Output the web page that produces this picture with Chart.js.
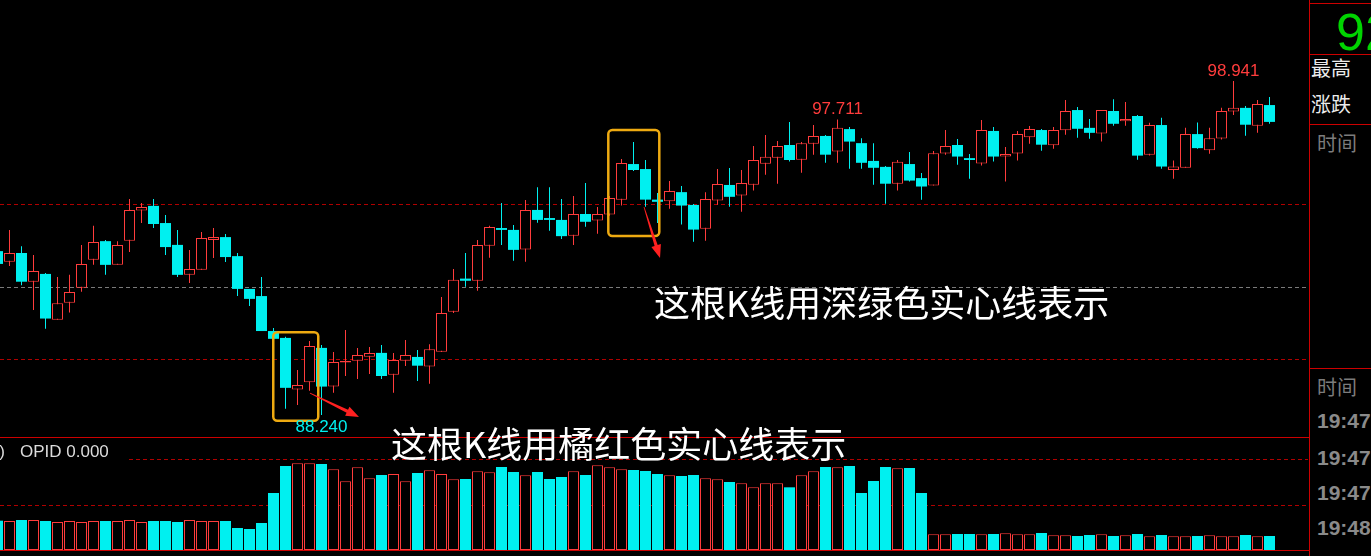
<!DOCTYPE html>
<html>
<head>
<meta charset="utf-8">
<title>K线</title>
<script src="https://cdn.jsdelivr.net/npm/chart.js@4.4.1/dist/chart.umd.min.js"></script>
<style>
    html, body { margin: 0; padding: 0; background: #000; width: 1371px; height: 556px; overflow: hidden; }
    #price-wrap { position: absolute; left: 0; top: 0; width: 1308px; height: 437px; }
    #volume-wrap { position: absolute; left: 0; top: 437px; width: 1308px; height: 113px; }
    .rule { position: absolute; background: #cc0000; }
    .txt { position: absolute; white-space: nowrap; line-height: 1; }
    .cjk { font-family: "Noto Sans CJK SC", sans-serif; }
    .lat { font-family: "Liberation Sans", Arial, sans-serif; }
</style>
</head>
<body>
<div id="price-wrap"><canvas id="priceChart"></canvas></div>
<div id="volume-wrap"><canvas id="volumeChart"></canvas></div>

<!-- frame lines -->
<div class="rule" style="left:1309px; top:0; width:1px; height:556px;"></div>
<div class="rule" style="left:0; top:437px; width:1309px; height:1px;"></div>
<div class="rule" style="left:0; top:550px; width:1309px; height:1px;"></div>
<div class="rule" style="left:1309px; top:3px; width:62px; height:1px;"></div>
<div class="rule" style="left:1309px; top:54px; width:62px; height:1px;"></div>
<div class="rule" style="left:1309px; top:124px; width:62px; height:1px;"></div>
<div class="rule" style="left:1309px; top:368px; width:62px; height:1px;"></div>

<!-- side panel -->
<div class="txt lat" style="left:1336px; top:6px; font-size:52px; color:#00d400;">92</div>
<div class="txt cjk" style="left:1311px; top:58px; font-size:20px; color:#ececec;">最高</div>
<div class="txt cjk" style="left:1311px; top:94px; font-size:20px; color:#ececec;">涨跌</div>
<div class="txt cjk" style="left:1317px; top:133px; font-size:20px; color:#7c7c7c;">时间</div>
<div class="txt cjk" style="left:1317px; top:377px; font-size:20px; color:#7c7c7c;">时间</div>
<div id="time-list"></div>

<!-- indicator title -->
<div class="txt lat" style="right:1366px; top:443px; font-size:17px; color:#dcdcdc;">0)</div>
<div class="txt lat" style="left:20px; top:443px; font-size:17px; color:#dcdcdc;">OPID 0.000</div>

<!-- notes -->
<div class="txt cjk" style="left:654px; top:283px; font-size:36px; color:#fff;">这根K线用深绿色实心线表示</div>
<div class="txt cjk" style="left:391px; top:424px; font-size:36px; color:#fff;">这根K线用橘红色实心线表示</div>

<script>
/* ------------------ DATA ------------------ */
// first candle sits at index -1, half cut by the left edge
const firstBar = -1;

const opens = [
    93.49, 93.15, 93.43, 92.51, 92.76, 91.29, 91.84, 92.32, 93.21, 93.81,
    93.05, 93.82, 94.79, 94.94, 94.39, 93.69, 92.73, 92.89, 93.85, 93.94,
    93.33, 92.28, 92.05, 90.93, 90.71, 89.06, 89.29, 90.39, 89.15, 89.92,
    89.98, 90.11, 90.23, 89.53, 89.98, 90.10, 89.79, 90.27, 91.55, 92.61,
    92.54, 93.66, 94.23, 94.17, 93.54, 94.81, 94.55, 94.49, 93.98, 94.68,
    94.47, 94.66, 95.14, 96.28, 96.12, 95.14, 95.09, 95.38, 94.97, 94.21,
    95.11, 95.61, 95.27, 95.62, 96.29, 96.48, 96.89, 96.42, 96.93, 97.18,
    96.68, 97.40, 96.95, 96.38, 96.19, 95.65, 96.28, 95.83, 95.59, 96.62,
    96.89, 96.47, 96.30, 97.34, 96.52, 96.62, 97.14, 97.37, 96.88, 97.36,
    98.01, 97.44, 97.26, 97.98, 97.65, 97.82, 96.58, 97.53, 96.09, 96.16,
    97.24, 96.72, 97.10, 97.96, 98.08, 97.51, 98.17
];
const highs = [
    93.69, 94.17, 93.65, 93.37, 92.79, 92.66, 92.73, 93.69, 94.30, 93.85,
    93.81, 95.16, 95.03, 95.16, 94.65, 94.17, 93.53, 94.10, 94.23, 94.04,
    93.43, 92.28, 92.66, 91.03, 90.75, 89.68, 90.61, 90.48, 90.26, 90.96,
    90.39, 90.42, 90.48, 90.23, 90.64, 90.32, 90.51, 92.02, 92.92, 93.43,
    93.85, 94.30, 95.03, 94.33, 95.13, 95.54, 95.54, 95.16, 95.26, 95.67,
    94.90, 95.26, 96.44, 96.99, 96.41, 95.35, 95.74, 95.58, 95.00, 95.38,
    96.12, 96.15, 96.09, 96.86, 97.21, 97.02, 97.63, 96.99, 97.53, 97.21,
    97.711, 97.47, 97.11, 96.95, 96.22, 96.41, 96.67, 95.99, 96.70, 97.37,
    97.08, 96.60, 97.69, 97.47, 96.83, 97.34, 97.50, 97.40, 97.47, 98.33,
    98.11, 97.72, 98.01, 98.36, 98.27, 97.85, 97.60, 97.76, 96.39, 97.44,
    97.61, 97.44, 98.08, 98.941, 98.14, 98.33, 98.43
];
const lows = [
    92.95, 93.01, 92.40, 91.60, 91.00, 91.29, 91.52, 92.19, 93.05, 92.73,
    93.05, 93.46, 94.39, 94.23, 93.37, 92.66, 92.47, 92.89, 93.27, 93.14,
    92.05, 91.73, 90.93, 90.67, 88.44, 88.56, 89.02, 88.240, 88.95, 89.49,
    89.39, 89.55, 89.39, 88.95, 89.81, 89.33, 89.24, 90.26, 91.51, 92.35,
    92.22, 93.28, 93.69, 93.18, 93.15, 94.40, 94.14, 93.88, 93.69, 94.27,
    94.05, 94.62, 94.95, 96.06, 94.91, 94.39, 94.85, 94.34, 93.79, 93.82,
    94.98, 94.91, 94.75, 95.43, 95.94, 95.65, 96.36, 96.00, 96.58, 96.32,
    96.32, 96.13, 96.13, 95.62, 95.01, 95.43, 95.72, 95.14, 95.59, 96.58,
    96.26, 95.81, 96.23, 96.36, 95.72, 96.39, 96.93, 96.71, 96.77, 97.22,
    97.12, 97.09, 97.00, 97.51, 97.51, 96.42, 96.55, 96.13, 95.81, 96.16,
    96.77, 96.61, 97.07, 97.85, 97.19, 97.28, 97.57
];
const closes = [
    93.08, 93.43, 92.51, 92.85, 91.33, 91.82, 92.18, 93.08, 93.78, 93.05,
    93.69, 94.81, 94.90, 94.36, 93.62, 92.73, 92.92, 93.91, 93.94, 93.30,
    92.28, 91.96, 90.93, 90.68, 89.11, 89.20, 90.45, 89.15, 89.94, 89.97,
    90.16, 90.23, 89.49, 90.00, 90.16, 89.82, 90.35, 91.51, 92.57, 92.54,
    93.69, 94.26, 94.17, 93.53, 94.81, 94.49, 94.49, 93.97, 94.68, 94.43,
    94.68, 95.19, 96.31, 96.09, 95.14, 95.07, 95.42, 94.95, 94.18, 95.16,
    95.64, 95.23, 95.67, 96.41, 96.51, 96.86, 96.41, 96.95, 97.18, 96.58,
    97.44, 97.00, 96.32, 96.16, 95.65, 96.35, 95.75, 95.56, 96.63, 96.86,
    96.52, 96.41, 97.37, 96.52, 96.60, 97.24, 97.40, 96.90, 97.37, 97.98,
    97.41, 97.28, 98.01, 97.57, 97.72, 96.55, 97.53, 96.20, 96.20, 97.24,
    96.79, 97.11, 97.98, 98.08, 97.54, 98.20, 97.63
];
const volumes = [
    645, 638, 660, 660, 638, 616, 638, 616, 638, 638,
    638, 660, 616, 638, 638, 616, 660, 638, 638, 638,
    484, 462, 594, 1254, 1848, 1907, 1907, 1892, 1775, 1511,
    1819, 1577, 1650, 1672, 1511, 1694, 1753, 1672, 1555, 1562,
    1731, 1709, 1826, 1716, 1643, 1716, 1562, 1606, 1731, 1650,
    1863, 1819, 1775, 1760, 1738, 1672, 1643, 1628, 1650, 1577,
    1555, 1496, 1467, 1379, 1467, 1467, 1379, 1643, 1731, 1826,
    1819, 1848, 1254, 1518, 1826, 1797, 1804, 1254, 345, 345,
    352, 352, 345, 352, 367, 345, 345, 374, 323, 323,
    308, 330, 345, 308, 323, 352, 301, 330, 301, 301,
    308, 323, 301, 301, 330, 301, 308
];

// reference levels
const priceLevels = [94.990, 92.331, 90.024];
const volumeLevels = [2000, 1000];

// candles whose high / low gets a number printed
const markedHighs = [69, 102];
const markedLows = [26];

const timeLabels = ['19:47:', '19:47:', '19:47:', '19:48:'];

/* ------------------ STYLE ------------------ */
const UP = '#ff3c3c';
const DOWN = '#00f0f0';
const xs = opens.map((_, k) => firstBar + k);
const isUp = closes.map((c, k) => c >= opens[k]);

Chart.defaults.font.family = '"Liberation Sans", Arial, sans-serif';

function xAxis() {
    // 12px per candle, candle -1 centred at x = -2.5
    return { type: 'linear', display: false, offset: false, min: -0.7917, max: 108.2083 };
}

/* ------------------ PLUGINS ------------------ */
const levelLines = {
    id: 'levelLines',
    beforeDatasetsDraw(chart, args, opts) {
        const ctx = chart.ctx;
        const y = chart.scales.y;
        ctx.save();
        ctx.lineWidth = 1;
        ctx.setLineDash([4, 3]);
        opts.lines.forEach(l => {
            const py = Math.round(y.getPixelForValue(l.value)) + 0.5;
            ctx.strokeStyle = l.color;
            ctx.beginPath();
            ctx.moveTo(l.start || 0, py);
            ctx.lineTo(chart.chartArea.right, py);
            ctx.stroke();
        });
        ctx.restore();
    }
};

function drawArrow(ctx, x1, y1, x2, y2) {
    const a = Math.atan2(y2 - y1, x2 - x1);
    const cs = Math.cos(a), sn = Math.sin(a);
    const head = 13, half = 5;
    const bx = x2 - head * cs, by = y2 - head * sn;
    ctx.beginPath();
    ctx.moveTo(x1 + 0.4 * sn, y1 - 0.4 * cs);
    ctx.lineTo(bx + 1.6 * sn, by - 1.6 * cs);
    ctx.lineTo(bx + half * sn, by - half * cs);
    ctx.lineTo(x2, y2);
    ctx.lineTo(bx - half * sn, by + half * cs);
    ctx.lineTo(bx - 1.6 * sn, by + 1.6 * cs);
    ctx.lineTo(x1 - 0.4 * sn, y1 + 0.4 * cs);
    ctx.closePath();
    ctx.fill();
}

const notes = {
    id: 'notes',
    afterDatasetsDraw(chart, args, opts) {
        const ctx = chart.ctx;
        const sx = chart.scales.x, sy = chart.scales.y;
        ctx.save();

        // rounded boxes around the two candle groups
        ctx.strokeStyle = '#eeaa11';
        ctx.lineWidth = 2.5;
        opts.boxes.forEach(b => {
            const x0 = sx.getPixelForValue(b.from), x1 = sx.getPixelForValue(b.to);
            const y0 = sy.getPixelForValue(b.top), y1 = sy.getPixelForValue(b.bottom);
            ctx.beginPath();
            ctx.roundRect(x0, y0, x1 - x0, y1 - y0, 4);
            ctx.stroke();
        });

        // red arrows
        ctx.fillStyle = '#ff2020';
        opts.arrows.forEach(a => {
            drawArrow(ctx,
                sx.getPixelForValue(a.x1), sy.getPixelForValue(a.y1),
                sx.getPixelForValue(a.x2), sy.getPixelForValue(a.y2));
        });

        // high / low numbers
        ctx.font = '17px "Liberation Sans", Arial, sans-serif';
        ctx.textAlign = 'center';
        ctx.textBaseline = 'alphabetic';
        markedHighs.forEach(i => {
            const v = highs[i - firstBar];
            ctx.fillStyle = UP;
            ctx.fillText(v.toFixed(3), sx.getPixelForValue(i), sy.getPixelForValue(v) - 5);
        });
        markedLows.forEach(i => {
            const v = lows[i - firstBar];
            ctx.fillStyle = DOWN;
            ctx.fillText(v.toFixed(3), sx.getPixelForValue(i), sy.getPixelForValue(v) + 17);
        });
        ctx.restore();
    }
};

/* ------------------ CHARTS ------------------ */
document.addEventListener('DOMContentLoaded', () => {
    // time column in the side panel
    const list = document.getElementById('time-list');
    const tops = [410, 447, 482, 517];
    timeLabels.forEach((t, k) => {
        const d = document.createElement('div');
        d.className = 'txt lat';
        d.style.cssText = `left:1317px; top:${tops[k]}px; font-size:21px; font-weight:bold; color:#8a8a8a;`;
        d.textContent = t;
        list.appendChild(d);
    });

    new Chart(document.getElementById('priceChart'), {
        type: 'bar',
        data: {
            datasets: [
                {
                    label: 'body',
                    data: xs.map((x, k) => ({ x: x, y: [opens[k], closes[k]] })),
                    backgroundColor: isUp.map(u => u ? '#000' : DOWN),
                    borderColor: isUp.map(u => u ? UP : DOWN),
                    borderWidth: isUp.map(u => u ? 1 : 0),
                    borderSkipped: false,
                    barThickness: 11,
                    minBarLength: 1.5,
                    inflateAmount: 0,
                    grouped: false,
                    order: 0
                },
                {
                    label: 'wick',
                    data: xs.map((x, k) => ({ x: x, y: [lows[k], highs[k]] })),
                    backgroundColor: isUp.map(u => u ? UP : DOWN),
                    borderWidth: 0,
                    barThickness: 1,
                    inflateAmount: 0,
                    grouped: false,
                    order: 1
                }
            ]
        },
        options: {
            responsive: true,
            maintainAspectRatio: false,
            animation: false,
            layout: { padding: 0 },
            scales: {
                x: xAxis(),
                y: { type: 'linear', display: false, min: 87.535, max: 101.536 }
            },
            plugins: {
                legend: { display: false },
                tooltip: { enabled: false },
                levelLines: {
                    lines: [
                        { value: priceLevels[0], color: '#b00000' },
                        { value: priceLevels[1], color: '#7a7a7a' },
                        { value: priceLevels[2], color: '#b00000' }
                    ]
                },
                notes: {
                    boxes: [
                        { from: 21.98, to: 25.73, top: 90.889, bottom: 88.057 },
                        { from: 49.9, to: 54.15, top: 97.371, bottom: 93.975 }
                    ],
                    arrows: [
                        { x1: 25.04, y1: 88.944, x2: 29.125, y2: 88.175 },
                        { x1: 52.875, y1: 94.904, x2: 54.21, y2: 93.27 }
                    ]
                }
            }
        },
        plugins: [levelLines, notes]
    });

    new Chart(document.getElementById('volumeChart'), {
        type: 'bar',
        data: {
            datasets: [{
                label: 'volume',
                data: xs.map((x, k) => ({ x: x, y: volumes[k] })),
                backgroundColor: isUp.map(u => u ? '#000' : DOWN),
                borderColor: isUp.map(u => u ? UP : DOWN),
                borderWidth: isUp.map(u => u ? 1 : 0),
                borderSkipped: false,
                barThickness: 11,
                inflateAmount: 0
            }]
        },
        options: {
            responsive: true,
            maintainAspectRatio: false,
            animation: false,
            layout: { padding: 0 },
            scales: {
                x: xAxis(),
                y: { type: 'linear', display: false, min: 0, max: 2486 }
            },
            plugins: {
                legend: { display: false },
                tooltip: { enabled: false },
                levelLines: {
                    lines: [
                        { value: volumeLevels[0], color: '#b00000', start: 129 },
                        { value: volumeLevels[1], color: '#b00000' }
                    ]
                }
            }
        },
        plugins: [levelLines]
    });
});
</script>
</body>
</html>
